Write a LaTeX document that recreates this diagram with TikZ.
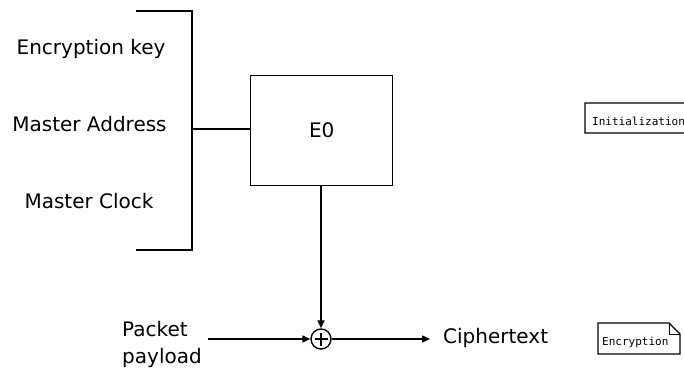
\documentclass[tikz,border=0pt]{standalone}
\usepackage{fontspec}
\setmainfont{DejaVu Sans}
\newfontfamily\notefont{DejaVu Sans Mono}
\usetikzlibrary{arrows.meta}
\begin{document}
\begin{tikzpicture}[x=1pt,y=-1pt,
  line/.style={draw=black,line width=1.4pt},
  arr/.style={line,-{Triangle[length=8pt,width=7pt]}},
  lbl/.style={font=\fontsize{20}{24}\selectfont,inner sep=0pt},
  notetxt/.style={font=\notefont\fontsize{11}{13}\selectfont,inner sep=0pt}]
\clip (0,0) rectangle (684,369);
\fill[white] (0,0) rectangle (684,369);
% labels
\node[lbl] (key) at (91,49) {Encryption key};
\node[lbl] (addr) at (89.5,124) {Master Address};
\node[lbl] (clk) at (89,201) {Master Clock};
% bracket
\coordinate (bt) at (136,11);
\coordinate (bb) at (136,250);
\coordinate (bm) at (192,129);
\draw[line] (bt) -- (192,11) -- (192,250) -- (bb);
% E0 box
\node[line,minimum width=142pt,minimum height=110pt,inner sep=0pt,anchor=north west,lbl] (e0) at (250,75) {};
\node[lbl] at (e0.center) {E0};
\draw[line] (bm) -- (e0.west |- bm);
% xor
\node[line,circle,minimum size=20pt,inner sep=0pt] (xor) at (321,339) {};
\draw[line width=1.4pt] ([yshift=-6.5pt]xor.center) -- ([yshift=6.5pt]xor.center)
  ([xshift=-6.5pt]xor.center) -- ([xshift=6.5pt]xor.center);
\draw[arr] (e0.south -| xor) -- (xor.north);
% packet payload
\node[lbl,align=left,anchor=west,font=\fontsize{20}{27}\selectfont] (pp) at (122,344) {Packet\\payload};
\coordinate (ppin) at (208,339);
\draw[arr] (ppin) -- (xor.west);
\node[lbl,anchor=west] (ct) at (443,338) {Ciphertext};
\coordinate (ctin) at (430,339);
\draw[arr] (xor.east) -- (ctin);
% notes
\draw[line width=1.2pt] (585,103) -- (585,133) -- (694,133) -- (694,110) -- (687,103) -- cycle;
\draw[line width=0.8pt] (687,103) -- (687,110) -- (694,110);
\node[notetxt,anchor=west] (init) at (592,121) {Initialization};
\draw[line width=1.2pt] (598,323) -- (598,354) -- (680,354) -- (680,334) -- (669,323) -- cycle;
\draw[line width=0.8pt] (669,323) -- (669,334) -- (680,334);
\node[notetxt,anchor=west] (enc) at (602,342) {Encryption};
\end{tikzpicture}
\end{document}
